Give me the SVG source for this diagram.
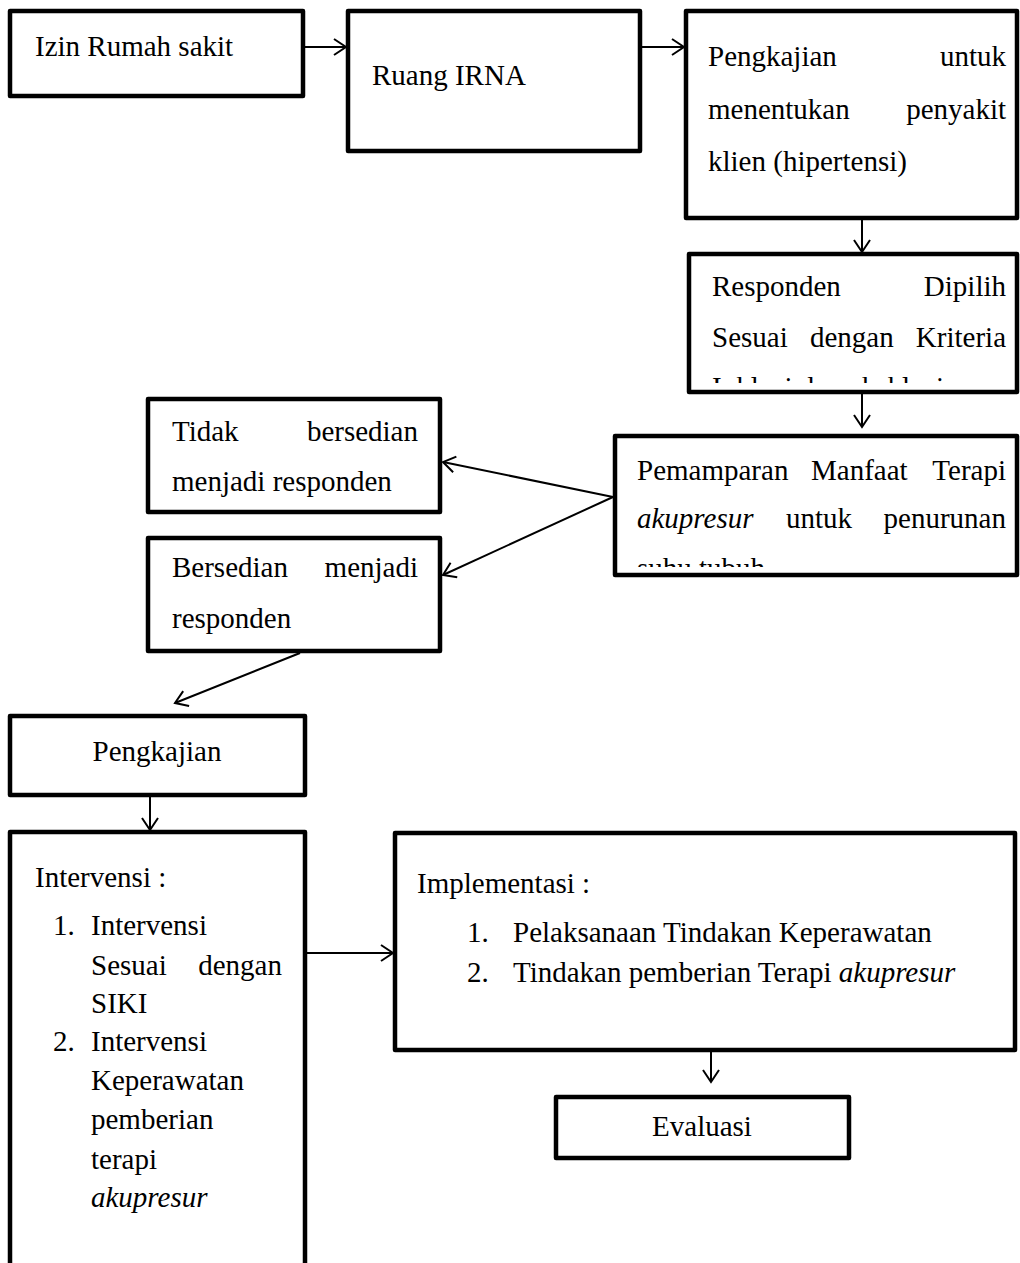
<svg xmlns="http://www.w3.org/2000/svg" width="1020" height="1263" viewBox="0 0 1020 1263">
<style>
.box{fill:#fff;stroke:#000;stroke-width:4.5;stroke-linejoin:round}
.t{font-family:"Liberation Serif","Times New Roman",serif;font-size:29px;fill:#000}
.i{font-style:italic}
.e{text-anchor:end}
.m{text-anchor:middle}
.c{fill:none;stroke:#000;stroke-width:2;marker-end:url(#arr)}
</style>
<defs>
<marker id="arr" markerWidth="16" markerHeight="18" refX="14" refY="9" orient="auto" markerUnits="userSpaceOnUse">
<path d="M2,1 L14,9 L2,17" fill="none" stroke="#000" stroke-width="2"/>
</marker>
<clipPath id="clip4"><rect x="689" y="254" width="329" height="129"/></clipPath>
<clipPath id="clip5"><rect x="615" y="436" width="403" height="131"/></clipPath>
</defs>
<rect width="1020" height="1263" fill="#fff"/>
<g id="connectors">
<line class="c" x1="305" y1="47" x2="346" y2="47"/>
<line class="c" x1="642" y1="47" x2="684" y2="47"/>
<line class="c" x1="862" y1="220" x2="862" y2="252"/>
<line class="c" x1="862" y1="393" x2="862" y2="427"/>
<line class="c" x1="613" y1="497" x2="443" y2="462"/>
<line class="c" x1="613" y1="497" x2="443" y2="575"/>
<line class="c" x1="300" y1="653" x2="175" y2="703"/>
<line class="c" x1="150" y1="797" x2="150" y2="830"/>
<line class="c" x1="307" y1="953" x2="393" y2="953"/>
<line class="c" x1="711" y1="1052" x2="711" y2="1082"/>
</g>
<g id="izin">
<rect class="box" x="10" y="11" width="293" height="85"/>
<text class="t" x="35" y="56">Izin Rumah sakit</text>
</g>
<g id="ruang">
<rect class="box" x="348" y="11" width="292" height="140"/>
<text class="t" x="372" y="85">Ruang IRNA</text>
</g>
<g id="pengkajian1">
<rect class="box" x="686" y="11" width="331" height="207"/>
<text class="t" x="708" y="66">Pengkajian</text>
<text class="t e" x="1006" y="66">untuk</text>
<text class="t" x="708" y="119">menentukan</text>
<text class="t e" x="1006" y="119">penyakit</text>
<text class="t" x="708" y="171">klien (hipertensi)</text>
</g>
<g id="responden">
<rect class="box" x="689" y="254" width="328" height="138"/>
<g clip-path="url(#clip4)">
<text class="t" x="712" y="296">Responden</text>
<text class="t e" x="1006" y="296">Dipilih</text>
<text class="t" x="712" y="347">Sesuai</text>
<text class="t" x="810" y="347">dengan</text>
<text class="t e" x="1006" y="347">Kriteria</text>
<text class="t" x="712" y="397">Inklusi dan eksklusi</text>
</g>
</g>
<g id="pemamparan">
<rect class="box" x="615" y="436" width="402" height="139"/>
<g clip-path="url(#clip5)">
<text class="t" x="637" y="480">Pemamparan</text>
<text class="t" x="811" y="480">Manfaat</text>
<text class="t e" x="1006" y="480">Terapi</text>
<text class="t i" x="637" y="528">akupresur</text>
<text class="t" x="786" y="528">untuk</text>
<text class="t e" x="1006" y="528">penurunan</text>
<text class="t" x="637" y="578">suhu tubuh</text>
</g>
</g>
<g id="tidak">
<rect class="box" x="148" y="399" width="292" height="113"/>
<text class="t" x="172" y="441">Tidak</text>
<text class="t e" x="418" y="441">bersedian</text>
<text class="t" x="172" y="491">menjadi responden</text>
</g>
<g id="bersedian">
<rect class="box" x="148" y="538" width="292" height="113"/>
<text class="t" x="172" y="577">Bersedian</text>
<text class="t e" x="418" y="577">menjadi</text>
<text class="t" x="172" y="628">responden</text>
</g>
<g id="pengkajian2">
<rect class="box" x="10" y="716" width="295" height="79"/>
<text class="t m" x="157" y="761">Pengkajian</text>
</g>
<g id="intervensi">
<rect class="box" x="10" y="832" width="295" height="440"/>
<text class="t" x="35" y="887">Intervensi :</text>
<text class="t" x="53" y="935">1.</text>
<text class="t" x="91" y="935">Intervensi</text>
<text class="t" x="91" y="975">Sesuai</text>
<text class="t e" x="282" y="975">dengan</text>
<text class="t" x="91" y="1013">SIKI</text>
<text class="t" x="53" y="1051">2.</text>
<text class="t" x="91" y="1051">Intervensi</text>
<text class="t" x="91" y="1090">Keperawatan</text>
<text class="t" x="91" y="1129">pemberian</text>
<text class="t" x="91" y="1169">terapi</text>
<text class="t i" x="91" y="1207">akupresur</text>
</g>
<g id="implementasi">
<rect class="box" x="395" y="833" width="620" height="217"/>
<text class="t" x="417" y="893">Implementasi :</text>
<text class="t" x="467" y="942">1.</text>
<text class="t" x="513" y="942">Pelaksanaan Tindakan Keperawatan</text>
<text class="t" x="467" y="982">2.</text>
<text class="t" x="513" y="982">Tindakan pemberian Terapi <tspan class="i">akupresur</tspan></text>
</g>
<g id="evaluasi">
<rect class="box" x="556" y="1097" width="293" height="61"/>
<text class="t m" x="702" y="1136">Evaluasi</text>
</g>
</svg>
